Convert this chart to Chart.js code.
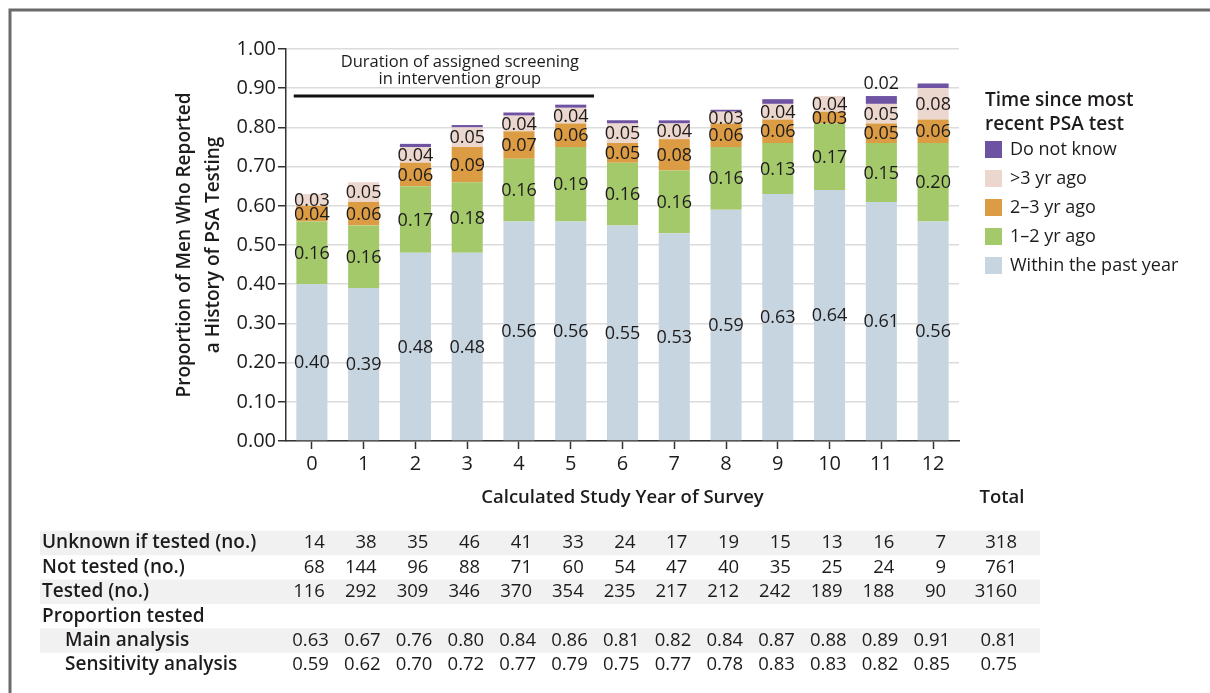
<!DOCTYPE html>
<html>
<head>
<meta charset="utf-8">
<script src="https://cdn.jsdelivr.net/npm/chart.js@4.4.1/dist/chart.umd.min.js"></script>
<style>
  html, body { margin: 0; padding: 0; background: #fff; }
  canvas { display: block; }
</style>
</head>
<body>
<canvas id="chart" width="1210" height="693"></canvas>
<script>
// Survey years (x categories)
const years = ['0', '1', '2', '3', '4', '5', '6', '7', '8', '9', '10', '11', '12'];

// Proportion of men by time since most recent PSA test (stacked, bottom to top)
const withinPastYear = [0.40, 0.39, 0.48, 0.48, 0.56, 0.56, 0.55, 0.53, 0.59, 0.63, 0.64, 0.61, 0.56];
const oneToTwoYears  = [0.16, 0.16, 0.17, 0.18, 0.16, 0.19, 0.16, 0.16, 0.16, 0.13, 0.17, 0.15, 0.20];
const twoToThreeYears = [0.04, 0.06, 0.06, 0.09, 0.07, 0.06, 0.05, 0.08, 0.06, 0.06, 0.03, 0.05, 0.06];
const overThreeYears = [0.03, 0.05, 0.04, 0.05, 0.04, 0.04, 0.05, 0.04, 0.03, 0.04, 0.04, 0.05, 0.08];
const doNotKnow      = [0, 0, 0.008, 0.006, 0.008, 0.008, 0.008, 0.008, 0.005, 0.012, 0, 0.02, 0.012];

// Y-axis tick values
const yTicks = [0, 0.1, 0.2, 0.3, 0.4, 0.5, 0.6, 0.7, 0.8, 0.9, 1.0];

// Table beneath the chart
const unknownCounts   = [14, 38, 35, 46, 41, 33, 24, 17, 19, 15, 13, 16, 7];
const unknownTotal    = 318;
const notTestedCounts = [68, 144, 96, 88, 71, 60, 54, 47, 40, 35, 25, 24, 9];
const notTestedTotal  = 761;
const testedCounts    = [116, 292, 309, 346, 370, 354, 235, 217, 212, 242, 189, 188, 90];
const testedTotal     = 3160;
const mainAnalysis    = [0.63, 0.67, 0.76, 0.80, 0.84, 0.86, 0.81, 0.82, 0.84, 0.87, 0.88, 0.89, 0.91];
const mainTotal       = 0.81;
const sensitivityAnalysis = [0.59, 0.62, 0.70, 0.72, 0.77, 0.79, 0.75, 0.77, 0.78, 0.83, 0.83, 0.82, 0.85];
const sensitivityTotal    = 0.75;

// Screening period annotation
const screeningLevel = 0.88;
const screeningFirstYear = 0;
const screeningLastYear = 5;

const FONT = '"Open Sans", Lato, sans-serif';
const INK = '#1e1b1c';

const tableRows = [
  { label: 'Unknown if tested (no.)', values: unknownCounts, total: unknownTotal, shade: true, indent: false, decimals: 0 },
  { label: 'Not tested (no.)', values: notTestedCounts, total: notTestedTotal, shade: false, indent: false, decimals: 0 },
  { label: 'Tested (no.)', values: testedCounts, total: testedTotal, shade: true, indent: false, decimals: 0 },
  { label: 'Proportion tested', values: null, total: null, shade: false, indent: false, decimals: 0 },
  { label: 'Main analysis', values: mainAnalysis, total: mainTotal, shade: true, indent: true, decimals: 2 },
  { label: 'Sensitivity analysis', values: sensitivityAnalysis, total: sensitivityTotal, shade: false, indent: true, decimals: 2 }
];

const figurePlugin = {
  id: 'figureExtras',
  beforeDraw(chart) {
    const ctx = chart.ctx;
    ctx.save();
    ctx.fillStyle = '#fff';
    ctx.fillRect(0, 0, chart.width, chart.height);
    // frame
    ctx.strokeStyle = '#6a6a6a';
    ctx.lineWidth = 3;
    ctx.beginPath();
    ctx.moveTo(10, chart.height);
    ctx.lineTo(10, 10);
    ctx.lineTo(chart.width, 10);
    ctx.stroke();
    ctx.restore();
  },
  afterDatasetsDraw(chart) {
    const ctx = chart.ctx;
    ctx.save();
    ctx.font = '18px ' + FONT;
    ctx.fillStyle = INK;
    ctx.textAlign = 'center';
    ctx.textBaseline = 'middle';
    chart.data.datasets.forEach((ds, di) => {
      const meta = chart.getDatasetMeta(di);
      meta.data.forEach((bar, i) => {
        const v = ds.data[i];
        if (ds.isUnknown) {
          if (v >= 0.015) {
            ctx.fillText(v.toFixed(2), bar.x, bar.y - 12);
          }
          return;
        }
        const mid = (bar.y + bar.base) / 2;
        ctx.fillText(v.toFixed(2), bar.x, mid + 1);
      });
    });
    ctx.restore();
  },
  afterDraw(chart) {
    const ctx = chart.ctx;
    const x = chart.scales.x;
    const y = chart.scales.y;
    const area = chart.chartArea;
    const step = x.getPixelForValue(1) - x.getPixelForValue(0);
    ctx.save();
    ctx.fillStyle = INK;
    ctx.textBaseline = 'middle';

    // screening duration bar and caption
    const lx0 = x.getPixelForValue(screeningFirstYear) - 0.35 * step;
    const lx1 = x.getPixelForValue(screeningLastYear) + 0.45 * step;
    const ly = y.getPixelForValue(screeningLevel);
    ctx.strokeStyle = '#111';
    ctx.lineWidth = 3;
    ctx.beginPath();
    ctx.moveTo(lx0, ly);
    ctx.lineTo(lx1, ly);
    ctx.stroke();
    ctx.font = '16.5px ' + FONT;
    ctx.textAlign = 'center';
    const cx = (lx0 + lx1) / 2 + 16;
    ctx.fillText('Duration of assigned screening', cx, ly - 34);
    ctx.fillText('in intervention group', cx, ly - 17);

    // y-axis title
    ctx.save();
    ctx.translate(200, (area.top + area.bottom) / 2);
    ctx.rotate(-Math.PI / 2);
    ctx.font = '600 19px ' + FONT;
    ctx.textAlign = 'center';
    ctx.fillText('Proportion of Men Who Reported', 0, -15);
    ctx.fillText('a History of PSA Testing', 0, 14);
    ctx.restore();

    // x-axis title and total header
    ctx.font = '600 18.5px ' + FONT;
    ctx.textAlign = 'center';
    ctx.fillText('Calculated Study Year of Survey', (area.left + area.right) / 2, 498);
    ctx.fillText('Total', 1002, 498);

    // legend
    ctx.textAlign = 'left';
    ctx.font = '600 19px ' + FONT;
    ctx.fillText('Time since most', 985, 101);
    ctx.fillText('recent PSA test', 985, 125);
    ctx.font = '18px ' + FONT;
    const legendItems = chart.data.datasets.slice().reverse();
    legendItems.forEach((ds, k) => {
      const iy = 150 + k * 29;
      ctx.fillStyle = ds.backgroundColor;
      ctx.fillRect(985, iy - 9, 17, 17);
      ctx.fillStyle = INK;
      ctx.fillText(ds.label, 1010, iy);
    });

    // table
    const rowY0 = 543;
    const rowH = 24.4;
    tableRows.forEach((row, r) => {
      const ry = rowY0 + r * rowH;
      if (row.shade) {
        ctx.fillStyle = '#f1f1f1';
        ctx.fillRect(40, ry - rowH / 2, 1000, rowH);
      }
      ctx.fillStyle = INK;
      ctx.textAlign = 'left';
      ctx.font = '600 19px ' + FONT;
      ctx.fillText(row.label, row.indent ? 65 : 42, ry);
      if (!row.values) return;
      ctx.font = '18.5px ' + FONT;
      ctx.textAlign = 'right';
      const shift = row.decimals ? 17 : 13;
      row.values.forEach((v, i) => {
        ctx.fillText(v.toFixed(row.decimals), x.getPixelForValue(i) + shift, ry);
      });
      ctx.fillText(row.total.toFixed(row.decimals), 1017, ry);
    });
    ctx.restore();
  }
};

new Chart(document.getElementById('chart'), {
  type: 'bar',
  data: {
    labels: years,
    datasets: [
      { label: 'Within the past year', data: withinPastYear, backgroundColor: '#c6d5df' },
      { label: '1\u20132 yr ago', data: oneToTwoYears, backgroundColor: '#a4c96b' },
      { label: '2\u20133 yr ago', data: twoToThreeYears, backgroundColor: '#db9c43' },
      { label: '>3 yr ago', data: overThreeYears, backgroundColor: '#ebd7cd' },
      { label: 'Do not know', data: doNotKnow, backgroundColor: '#6f53a3', isUnknown: true }
    ]
  },
  options: {
    responsive: false,
    animation: false,
    events: [],
    layout: { padding: { left: 0, right: 251, top: 49, bottom: 212 } },
    datasets: { bar: { barPercentage: 0.6, categoryPercentage: 1.0, borderWidth: 0 } },
    plugins: { legend: { display: false }, tooltip: { enabled: false }, title: { display: false } },
    scales: {
      x: {
        stacked: true,
        afterFit(s) { s.height = 40; },
        grid: { display: true, drawOnChartArea: false, drawTicks: true, tickLength: 8, tickColor: '#333', tickWidth: 1.5, offset: false },
        border: { display: true, color: '#333', width: 1.5 },
        ticks: { color: INK, font: { family: FONT, size: 20 }, padding: 3, maxRotation: 0 }
      },
      y: {
        stacked: true,
        min: 0,
        max: 1,
        afterFit(s) { s.width = 286; },
        afterBuildTicks(s) { s.ticks = yTicks.map(v => ({ value: v })); },
        grid: { color: '#dcdcdc', lineWidth: 1.5, drawTicks: true, tickLength: 8, tickColor: '#333', tickWidth: 1.5 },
        border: { display: true, color: '#333', width: 1.5 },
        ticks: { color: INK, font: { family: FONT, size: 20 }, padding: 2, callback: v => v.toFixed(2) }
      }
    }
  },
  plugins: [figurePlugin]
});
</script>
</body>
</html>
